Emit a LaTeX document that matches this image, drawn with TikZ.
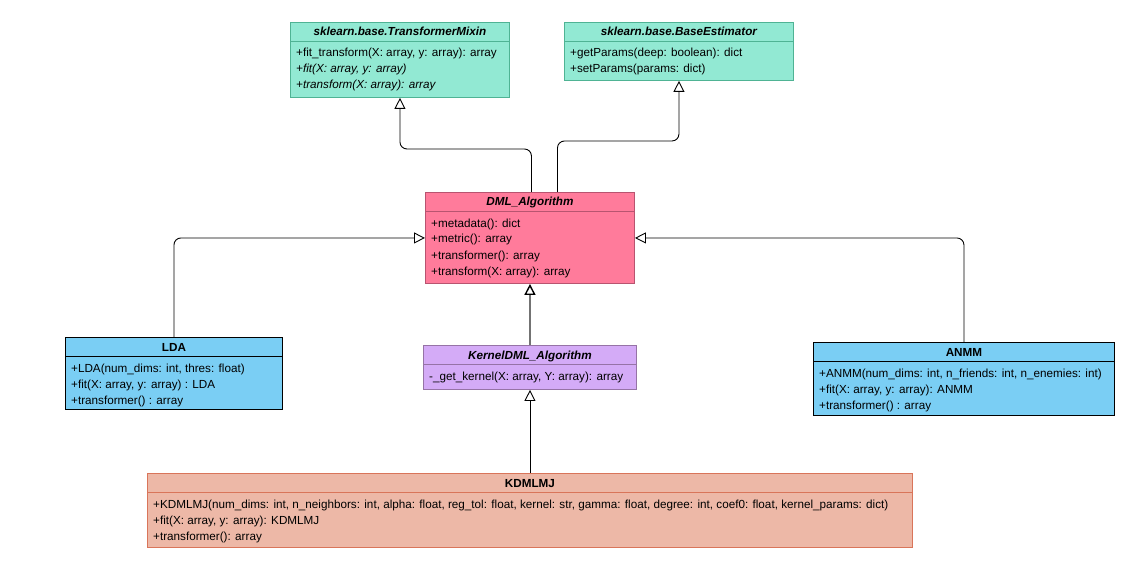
\documentclass[tikz,border=0pt]{standalone}
\usepackage{fontspec}
\setmainfont{Liberation Sans}
\usetikzlibrary{
  positioning,
  arrows.meta,
  calc
}
\definecolor{mixinfill}{HTML}{92E9D3}
\definecolor{mixinline}{HTML}{4FB394}
\definecolor{dmlfill}{HTML}{FF7B9B}
\definecolor{dmlline}{HTML}{B85470}
\definecolor{kernfill}{HTML}{D4ABF7}
\definecolor{kernline}{HTML}{9673A6}
\definecolor{algfill}{HTML}{7ACEF4}
\definecolor{kdmfill}{HTML}{EDB8A7}
\definecolor{kdmline}{HTML}{D9755A}
\tikzset{
  cls/.style={
    draw,
    line width=0.9pt,
    anchor=north west,
    inner sep=0pt,
  },
  mixin/.style={
    fill=mixinfill,
    draw=mixinline,
  },
  abstr/.style={
    fill=dmlfill,
    draw=dmlline,
  },
  kern/.style={
    fill=kernfill,
    draw=kernline,
  },
  alg/.style={
    fill=algfill,
    draw=black,
  },
  kdm/.style={
    fill=kdmfill,
    draw=kdmline,
  },
  title/.style={
    font=\fontsize{11.7}{14}\selectfont\bfseries,
    anchor=base,
    inner sep=0pt,
  },
  atitle/.style={
    title,
    font=\fontsize{11.7}{14}\selectfont\bfseries\itshape,
  },
  member/.style={
    font=\fontsize{11.7}{14}\selectfont,
    anchor=base west,
    inner sep=0pt,
  },
  inh/.style={
    draw,
    line width=0.9pt,
    rounded corners=7pt,
    -{Triangle[open, length=11pt, width=11pt, color=black]},
  },
}
% name, corner, width, height, colours, title style, title
\newcommand{\umlbox}[7]{%
  \node[cls, #5, minimum width=#3, minimum height=#4] (#1) at #2 {};
  \node[#6] (#1-t) at ($(#1.north)+(0,14)$) {#7};
  \draw[#5] ($(#1.north west)+(0,19.5)$) -- ($(#1.north east)+(0,19.5)$);
}
\newcommand{\umlrows}[2]{%
  \foreach \row [count=\i from 0] in {#2}
    \node[member] (#1-r\i) at ($(#1.north west)+(6,{35+16*\i})$) {\row};
}

\begin{document}
\begin{tikzpicture}[x=1pt, y=-1pt]
  \fill[white] (0,0) rectangle (1139,577);
  \useasboundingbox (0,0) rectangle (1139,577);

  % classes
  \umlbox{tm}{(290,22)}{219pt}{75pt}{mixin}{atitle}{sklearn.base.TransformerMixin}
  \umlrows{tm}{{+fit\_transform(X: array, y: array): array},
    {\textit{+fit(X: array, y: array)}},
    {\textit{+transform(X: array): array}}}

  \umlbox{be}{(564,22)}{229pt}{58pt}{mixin}{atitle}{sklearn.base.BaseEstimator}
  \umlrows{be}{{+getParams(deep: boolean): dict}, {+setParams(params: dict)}}

  \umlbox{dml}{(425,192)}{209pt}{91pt}{abstr}{atitle}{DML\_Algorithm}
  \umlrows{dml}{{+metadata(): dict}, {+metric(): array}, {+transformer(): array},
    {+transform(X: array): array}}

  \umlbox{kdml}{(423,345)}{213pt}{44pt}{kern}{atitle}{KernelDML\_Algorithm}
  \umlrows{kdml}{{-\_get\_kernel(X: array, Y: array): array}}

  \umlbox{lda}{(65,337)}{217pt}{72pt}{alg}{title}{LDA}
  \umlrows{lda}{{+LDA(num\_dims: int, thres: float)}, {+fit(X: array, y: array) : LDA},
    {+transformer() : array}}

  \umlbox{anmm}{(813,342)}{301pt}{73pt}{alg}{title}{ANMM}
  \umlrows{anmm}{{+ANMM(num\_dims: int, n\_friends: int, n\_enemies: int)},
    {+fit(X: array, y: array): ANMM}, {+transformer() : array}}

  \umlbox{kdmlmj}{(147,473)}{765pt}{74pt}{kdm}{title}{KDMLMJ}
  \umlrows{kdmlmj}{{+KDMLMJ(num\_dims: int, n\_neighbors: int, alpha: float, reg\_tol: float, kernel: str, gamma: float, degree: int, coef0: float, kernel\_params: dict)},
    {+fit(X: array, y: array): KDMLMJ}, {+transformer(): array}}

  % inheritance
  \draw[inh] ([xshift=1.5pt]dml.north) -- ++(0,-43) -| (tm.south);
  \draw[inh] ([xshift=27.5pt]dml.north) -- ++(0,-51) -| (be.south);
  \draw[inh] (lda.north) |- (dml.west);
  \draw[inh] (anmm.north) |- (dml.east);
  \draw[inh, draw=black!55, line width=1.4pt] (kdml.north) -- (dml.south);
  \draw[inh] (kdmlmj.north) -- (kdml.south);
\end{tikzpicture}
\end{document}
